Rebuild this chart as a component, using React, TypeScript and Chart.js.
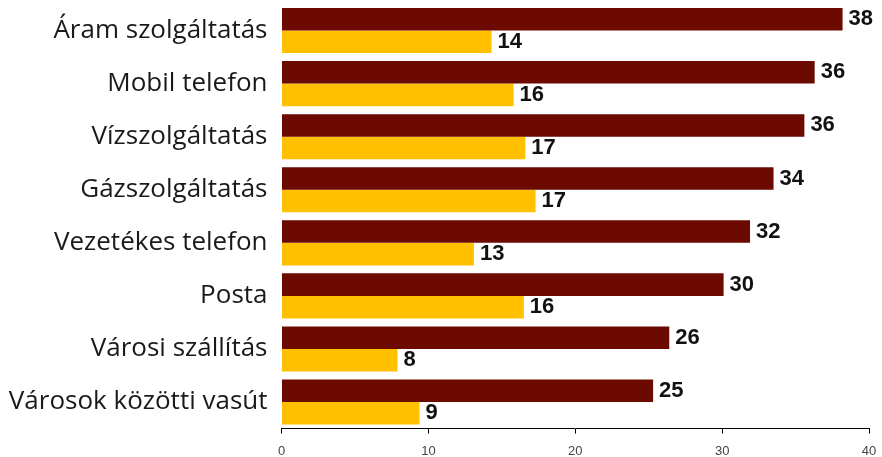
import React, { useEffect, useRef } from "react";
import { Chart, registerables } from "chart.js";

Chart.register(...registerables);

const categories = [
  "Áram szolgáltatás",
  "Mobil telefon",
  "Vízszolgáltatás",
  "Gázszolgáltatás",
  "Vezetékes telefon",
  "Posta",
  "Városi szállítás",
  "Városok közötti vasút",
];
const seriesRed = [38.2, 36.3, 35.6, 33.5, 31.9, 30.1, 26.4, 25.3];
const seriesYellow = [14.3, 15.8, 16.6, 17.3, 13.1, 16.5, 7.9, 9.4];
const labelsRed = ["38", "36", "36", "34", "32", "30", "26", "25"];
const labelsYellow = ["14", "16", "17", "17", "13", "16", "8", "9"];
const xTicks = [0, 10, 20, 30, 40];

const valueLabels = {
  id: "valueLabels",
  afterDatasetsDraw(chart: any) {
    const ctx = chart.ctx;
    ctx.save();
    ctx.font = "bold 22px 'Liberation Sans', Arial, sans-serif";
    ctx.fillStyle = "#111111";
    ctx.textBaseline = "middle";
    ctx.textAlign = "left";
    chart.data.datasets.forEach((_ds: any, di: number) => {
      const meta = chart.getDatasetMeta(di);
      const texts = di === 0 ? labelsRed : labelsYellow;
      meta.data.forEach((bar: any, i: number) => {
        ctx.fillText(texts[i], bar.x + 6, bar.y);
      });
    });
    ctx.restore();
  },
};

export default function App() {
  const ref = useRef<HTMLCanvasElement | null>(null);

  useEffect(() => {
    if (!ref.current) return;
    const chart = new Chart(ref.current, {
      type: "bar",
      data: {
        labels: categories,
        datasets: [
          {
            label: "A",
            data: seriesRed,
            backgroundColor: "#6C0A00",
            borderWidth: 0,
            categoryPercentage: 0.85,
            barPercentage: 1.0,
          },
          {
            label: "B",
            data: seriesYellow,
            backgroundColor: "#FFC000",
            borderWidth: 0,
            categoryPercentage: 0.85,
            barPercentage: 1.0,
          },
        ],
      },
      options: {
        indexAxis: "y",
        animation: false,
        responsive: true,
        maintainAspectRatio: false,
        layout: { padding: { top: 4, right: 13, left: 0, bottom: 0 } },
        plugins: {
          legend: { display: false },
          tooltip: { enabled: false },
        },
        scales: {
          x: {
            min: 0,
            max: 40,
            afterBuildTicks: (scale: any) => {
              scale.ticks = xTicks.map((v) => ({ value: v }));
            },
            afterFit: (scale: any) => {
              scale.height = 28.4;
              scale.paddingLeft = 0;
              scale.paddingRight = 0;
            },
            grid: {
              display: true,
              drawOnChartArea: false,
              drawTicks: true,
              tickLength: 5,
              color: "#000000",
            },
            border: { display: true, color: "#000000", width: 1 },
            ticks: {
              padding: 10,
              color: "#444444",
              font: { family: "'Liberation Sans Narrow', 'Arial Narrow', 'Liberation Sans', Arial, sans-serif", size: 13 },
            },
          },
          y: {
            afterFit: (scale: any) => {
              scale.width = 281.5;
              scale.paddingTop = 0;
              scale.paddingBottom = 0;
            },
            grid: { display: false, drawTicks: false },
            border: { display: false },
            ticks: {
              padding: 14,
              color: "#1a1a1a",
              font: { family: "'Open Sans', 'Noto Sans', sans-serif", size: 26, weight: "400" },
            },
          },
        },
      },
      plugins: [valueLabels],
    });
    return () => chart.destroy();
  }, []);

  return (
    <div style={{ position: "fixed", left: 0, top: 0, width: 882, height: 457, background: "#ffffff" }}>
      <canvas ref={ref} />
    </div>
  );
}
